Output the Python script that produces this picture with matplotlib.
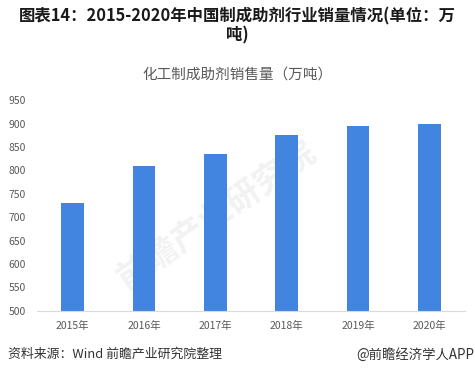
import matplotlib
matplotlib.use('Agg')
import matplotlib.pyplot as plt
import numpy as np

plt.rcParams['font.family'] = ['Noto Sans CJK SC', 'DejaVu Sans']

## data
years = ['2015年', '2016年', '2017年', '2018年', '2019年', '2020年']
sales = [731, 809, 834, 876, 894, 900]

title = '图表14：2015-2020年中国制成助剂行业销量情况(单位：万\n吨)'
subtitle = '化工制成助剂销售量（万吨）'
source = '资料来源：Wind 前瞻产业研究院整理'
brand = '@前瞻经济学人APP'

fig = plt.figure(figsize=(4.75, 3.75), dpi=100)
ax = fig.add_axes([0.078, 0.171, 0.901, 0.562])

x = np.arange(len(years))
ax.bar(x, sales, width=0.32, color='#4285e0', zorder=2)

ax.set_xlim(-0.5, len(years) - 0.5)
ax.set_ylim(500, 950)
ax.set_yticks(np.arange(500, 951, 50))
ax.set_xticks(x)
ax.set_xticklabels(years)
ax.tick_params(axis='both', length=0, labelsize=7.5, colors='#595959')
ax.tick_params(axis='x', pad=7)
ax.tick_params(axis='y', pad=8)
for s in ['top', 'right', 'left']:
    ax.spines[s].set_visible(False)
ax.spines['bottom'].set_color('#d9d9d9')

# faint watermark
ax.text(0.42, 0.45, '前瞻产业研究院', transform=ax.transAxes, fontsize=24,
        color='#f2f2f2', rotation=35, ha='center', va='center', zorder=1,
        fontweight='bold')

fig.text(0.5, 0.93, title, ha='center', va='center', fontsize=11.8,
         fontweight='bold', color='#1a1a1a', linespacing=1.1)
fig.text(0.5, 0.802, subtitle, ha='center', va='center', fontsize=10.5, color='#595959')
fig.text(0.017, 0.055, source, ha='left', va='center', fontsize=9.3, color='#333333')
fig.text(0.998, 0.055, brand, ha='right', va='center', fontsize=9.6, color='#333333')

fig.savefig('out.png', dpi=100)
